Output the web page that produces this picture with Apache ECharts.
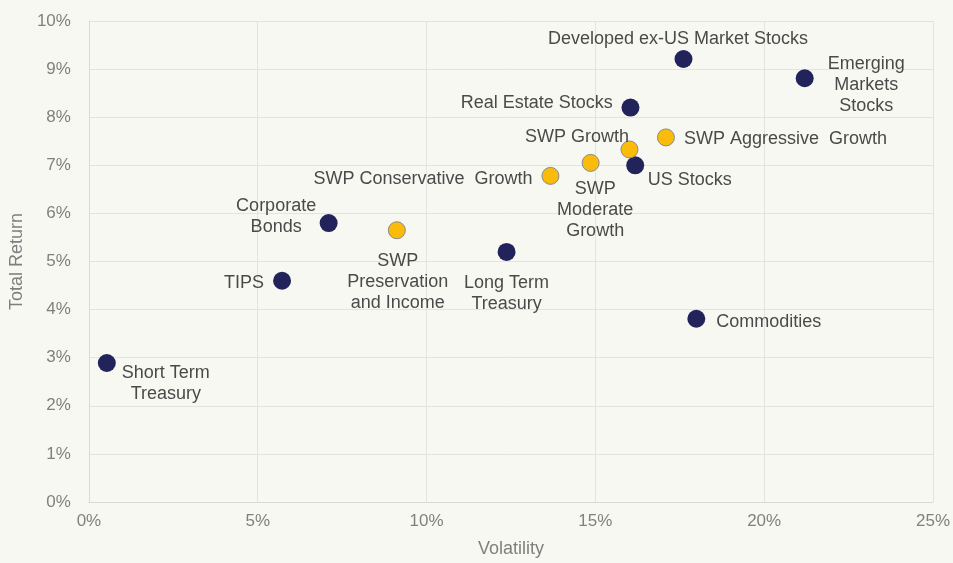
<!DOCTYPE html>
<html>
<head>
<meta charset="utf-8">
<script src="https://cdn.jsdelivr.net/npm/echarts@6/dist/echarts.min.js"></script>
<style>
html,body{margin:0;padding:0;background:#f8f8f2;}
#c{width:953px;height:563px;}
</style>
</head>
<body>
<div id="c"></div>
<script>
// Data
const names = ["Short Term\nTreasury","TIPS","Corporate\nBonds","SWP\nPreservation\nand Income","Long Term\nTreasury","SWP Conservative  Growth","SWP\nModerate\nGrowth","SWP Growth","US Stocks","Real Estate Stocks","SWP Aggressive  Growth","Developed ex-US Market Stocks","Emerging\nMarkets\nStocks","Commodities"];
const volatility = [0.53, 5.72, 7.10, 9.12, 12.37, 13.67, 14.86, 16.01, 16.18, 16.04, 17.09, 17.61, 21.20, 17.99];
const totalReturn = [2.89, 4.60, 5.80, 5.65, 5.20, 6.78, 7.05, 7.33, 7.00, 8.20, 7.58, 9.21, 8.81, 3.81];
const isSWP = [false,false,false,true,false,true,true,true,false,false,true,false,false,false];
const xTicks = [0,5,10,15,20,25];
const yTicks = [0,1,2,3,4,5,6,7,8,9,10];

// Label layout (offset of text-block center from marker center, px)
const labelOffset = [[59,21],[-38,2],[-52.5,-6.5],[1,52],[0,42],[-127.5,3],[4.5,47.5],[-52.5,-12],[54.5,15],[-93.7,-4.7],[119.5,2],[-5.5,-20],[61.5,7],[72.5,3]];

const R = 9;
function mk(swp){
  const d=[];
  names.forEach((n,i)=>{
    if(isSWP[i]!==swp) return;
    d.push({
      name:n,
      value:[volatility[i], totalReturn[i]],
      label:{position:[R+labelOffset[i][0], R+labelOffset[i][1]], align:'center', verticalAlign:'middle'}
    });
  });
  return d;
}
const chart = echarts.init(document.getElementById('c'));
const FF = 'Liberation Sans, Arial, sans-serif';
const labelBase = {show:true, formatter:p=>p.name, color:'#4a4a4a', fontSize:18, lineHeight:21, fontFamily:FF};
chart.setOption({
  backgroundColor:'#f8f8f2',
  animation:false,
  textStyle:{fontFamily:FF},
  grid:{left:88,right:19,top:21,bottom:59,containLabel:false},
  xAxis:{
    type:'value',min:xTicks[0],max:xTicks[xTicks.length-1],interval:5,
    name:'Volatility',nameLocation:'middle',nameGap:38,
    nameTextStyle:{color:'#7f7f7f',fontSize:18,fontFamily:FF},
    axisLine:{show:true,lineStyle:{color:'#d9d9d9'}},
    axisTick:{show:false},
    axisLabel:{formatter:'{value}%',color:'#808080',fontSize:17,margin:11,fontFamily:FF},
    splitLine:{show:true,lineStyle:{color:'#e3e3e3'}}
  },
  yAxis:{
    type:'value',min:yTicks[0],max:yTicks[yTicks.length-1],interval:1,
    name:'Total Return',nameLocation:'middle',nameGap:60,
    nameTextStyle:{color:'#7f7f7f',fontSize:18,fontFamily:FF},
    axisLine:{show:true,lineStyle:{color:'#d9d9d9'}},
    axisTick:{show:false},
    axisLabel:{formatter:'{value}%',color:'#808080',fontSize:17,margin:18,fontFamily:FF},
    splitLine:{show:true,lineStyle:{color:'#e3e3e3'}}
  },
  series:[
    {type:'scatter',symbolSize:18,data:mk(false),
     itemStyle:{color:'#22235a',opacity:1},label:labelBase},
    {type:'scatter',symbolSize:17,data:mk(true),
     itemStyle:{color:'#fbbb0a',borderColor:'#8a8a8a',borderWidth:1,opacity:1},label:labelBase}
  ]
});
</script>
</body>
</html>
